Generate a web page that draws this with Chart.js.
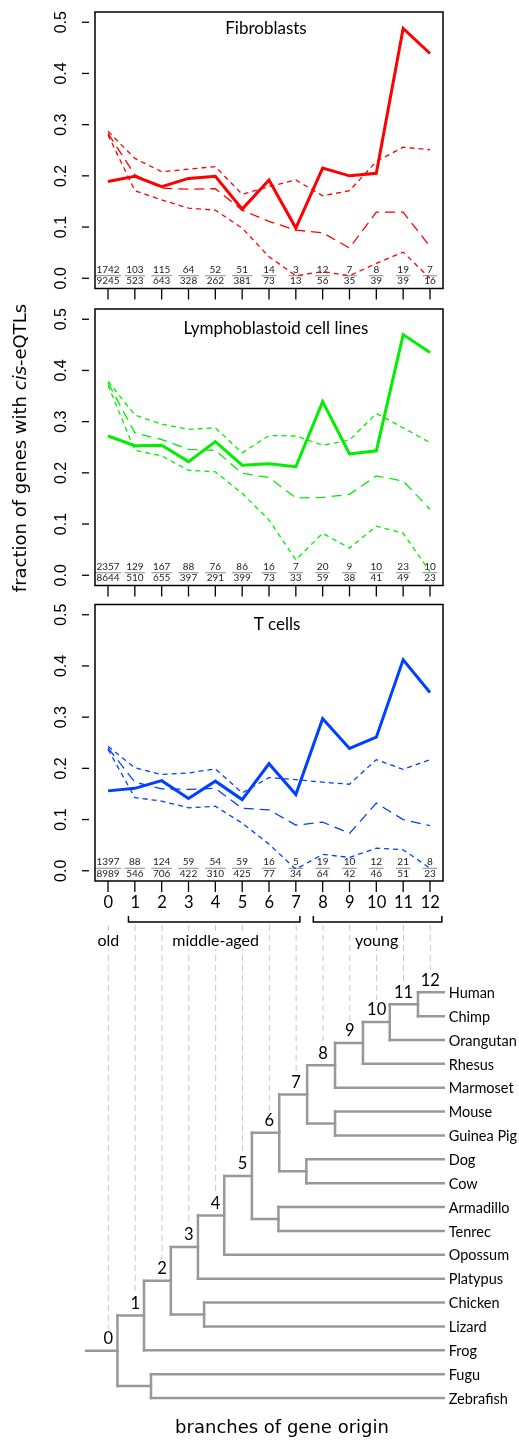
<!DOCTYPE html>
<html>
<head>
<meta charset="utf-8">
<script src="https://cdn.jsdelivr.net/npm/chart.js@4.4.0/dist/chart.umd.min.js"></script>
<style>
body { margin: 0; background: #fff; width: 519px; height: 1440px; position: relative; overflow: hidden; }
canvas { position: absolute; left: 0; }
#ytitle {
    position: absolute; left: -179px; top: 436px; width: 400px; height: 24px; line-height: 24px;
    text-align: center; transform: rotate(-90deg); font: 18px 'DejaVu Sans'; color: #000; white-space: nowrap;
}
</style>
</head>
<body>
<canvas id="p1" width="519" height="300" style="top:0px"></canvas>
<canvas id="p2" width="519" height="300" style="top:297px"></canvas>
<canvas id="p3" width="519" height="300" style="top:593px"></canvas>
<canvas id="tree" width="519" height="555" style="top:885px"></canvas>
<div id="ytitle">fraction of genes with <i>cis</i>-eQTLs</div>
<script>
// branches of gene origin (x axis) and y ticks
const branches = [0, 1, 2, 3, 4, 5, 6, 7, 8, 9, 10, 11, 12];
const yTicks = [0, 0.1, 0.2, 0.3, 0.4, 0.5];

// Fibroblasts
const fibroObs = [0.189, 0.199, 0.179, 0.195, 0.199, 0.135, 0.192, 0.098, 0.215, 0.200, 0.205, 0.488, 0.439];
const fibroHigh = [0.287, 0.234, 0.208, 0.213, 0.218, 0.164, 0.179, 0.192, 0.161, 0.171, 0.228, 0.256, 0.251];
const fibroMid = [0.283, 0.202, 0.176, 0.174, 0.175, 0.133, 0.111, 0.094, 0.089, 0.059, 0.129, 0.129, 0.062];
const fibroLow = [0.280, 0.171, 0.153, 0.137, 0.133, 0.098, 0.042, 0.005, 0.013, 0.005, 0.029, 0.051, 0.000];
const fibroNum = [1742, 103, 115, 64, 52, 51, 14, 3, 12, 7, 8, 19, 7];
const fibroDen = [9245, 523, 643, 328, 262, 381, 73, 13, 56, 35, 39, 39, 16];

// Lymphoblastoid cell lines
const lclObs = [0.272, 0.253, 0.254, 0.222, 0.261, 0.215, 0.218, 0.212, 0.339, 0.237, 0.243, 0.470, 0.435];
const lclHigh = [0.379, 0.313, 0.295, 0.285, 0.288, 0.239, 0.273, 0.272, 0.254, 0.264, 0.316, 0.288, 0.259];
const lclMid = [0.376, 0.278, 0.265, 0.246, 0.244, 0.199, 0.191, 0.151, 0.152, 0.158, 0.194, 0.184, 0.129];
const lclLow = [0.371, 0.244, 0.233, 0.205, 0.202, 0.160, 0.108, 0.030, 0.082, 0.053, 0.096, 0.082, 0.007];
const lclNum = [2357, 129, 167, 88, 76, 86, 16, 7, 20, 9, 10, 23, 10];
const lclDen = [8644, 510, 655, 397, 291, 399, 73, 33, 59, 38, 41, 49, 23];

// T cells
const tcellObs = [0.156, 0.161, 0.176, 0.141, 0.175, 0.139, 0.209, 0.149, 0.297, 0.239, 0.261, 0.412, 0.348];
const tcellHigh = [0.243, 0.201, 0.188, 0.191, 0.199, 0.152, 0.182, 0.178, 0.173, 0.169, 0.217, 0.198, 0.217];
const tcellMid = [0.240, 0.173, 0.160, 0.159, 0.161, 0.122, 0.119, 0.089, 0.095, 0.073, 0.132, 0.100, 0.088];
const tcellLow = [0.237, 0.143, 0.136, 0.123, 0.126, 0.093, 0.052, 0.003, 0.032, 0.026, 0.044, 0.041, 0.005];
const tcellNum = [1397, 88, 124, 59, 54, 59, 16, 5, 19, 10, 12, 21, 8];
const tcellDen = [8989, 546, 706, 422, 310, 425, 77, 34, 64, 42, 46, 51, 23];

// tree: leaves top to bottom, internal nodes [id, depth, childA, childB]
const species = ['Human', 'Chimp', 'Orangutan', 'Rhesus', 'Marmoset', 'Mouse', 'Guinea Pig', 'Dog', 'Cow',
    'Armadillo', 'Tenrec', 'Opossum', 'Platypus', 'Chicken', 'Lizard', 'Frog', 'Fugu', 'Zebrafish'];
const treeNodes = [
    ['n11', 11.54, 0, 1],
    ['n10', 10.49, 'n11', 2],
    ['n9', 9.49, 'n10', 3],
    ['n8', 8.45, 'n9', 4],
    ['glires', 8.45, 5, 6],
    ['n7', 7.41, 'n8', 'glires'],
    ['laur', 7.38, 7, 8],
    ['n6', 6.37, 'n7', 'laur'],
    ['afro', 6.34, 9, 10],
    ['n5', 5.35, 'n6', 'afro'],
    ['n4', 4.32, 'n5', 11],
    ['n3', 3.34, 'n4', 12],
    ['saur', 3.57, 13, 14],
    ['n2', 2.33, 'n3', 'saur'],
    ['n1', 1.33, 'n2', 15],
    ['fish', 1.59, 16, 17],
    ['n0', 0.34, 'n1', 'fish']
];
const tipDepth = 12.5;
const rootDepth = -0.83;
const ageGroups = ['old', 'middle-aged', 'young'];
const ageCenters = [0, 4, 10];

const geo = 'Lato, "DejaVu Sans", sans-serif';

// frame, ticks, counts and title of one panel
const panelDecor = {
    id: 'panelDecor',
    beforeDatasetsDraw(chart, args, opts) {
        const { ctx, scales: { x, y } } = chart;
        const y0 = y.getPixelForValue(0);
        ctx.save();
        ctx.font = '10px ' + geo;
        ctx.textAlign = 'center';
        ctx.textBaseline = 'middle';
        opts.num.forEach((n, i) => {
            const px = x.getPixelForValue(branches[i]);
            const a = String(n), b = String(opts.den[i]);
            ctx.fillStyle = '#222';
            ctx.fillText(a, px, y0 - 8.5);
            ctx.fillText(b, px, y0 + 3);
            const w = Math.max(ctx.measureText(a).width, ctx.measureText(b).width, 11) + 3;
            ctx.strokeStyle = '#888';
            ctx.lineWidth = 1;
            ctx.beginPath();
            ctx.moveTo(px - w / 2, y0 - 2.5);
            ctx.lineTo(px + w / 2, y0 - 2.5);
            ctx.stroke();
        });
        ctx.restore();
    },
    afterDraw(chart, args, opts) {
        const { ctx, chartArea: a, scales: { x, y } } = chart;
        ctx.save();
        ctx.strokeStyle = '#000';
        ctx.lineWidth = 1.5;
        ctx.strokeRect(a.left, a.top, a.right - a.left, a.bottom - a.top);
        ctx.lineWidth = 1.3;
        ctx.fillStyle = '#000';
        ctx.font = '16px "Liberation Sans", Arial, sans-serif';
        ctx.textAlign = 'center';
        ctx.textBaseline = 'middle';
        yTicks.forEach(t => {
            const py = y.getPixelForValue(t);
            ctx.beginPath();
            ctx.moveTo(a.left - 13, py);
            ctx.lineTo(a.left - 6, py);
            ctx.stroke();
            ctx.save();
            ctx.translate(61.5, py);
            ctx.rotate(-Math.PI / 2);
            ctx.fillText(t.toFixed(1), 0, 0);
            ctx.restore();
        });
        branches.forEach(b => {
            const px = x.getPixelForValue(b);
            ctx.beginPath();
            ctx.moveTo(px, a.bottom);
            ctx.lineTo(px, a.bottom + 11);
            ctx.stroke();
        });
        ctx.font = '17px ' + geo;
        ctx.fillText(opts.title, opts.titleX, a.top + opts.titleDy);
        ctx.restore();
    }
};

function makePanel(id, top, title, titleX, titleDy, color, obs, high, mid, low, num, den) {
    const pts = arr => branches.map((b, i) => ({ x: b, y: arr[i] }));
    const dashed = (arr, dash) => ({
        data: pts(arr), borderColor: color, borderWidth: 1.3, borderDash: dash,
        pointRadius: 0, tension: 0, fill: false
    });
    return new Chart(document.getElementById(id), {
        type: 'line',
        data: {
            datasets: [
                dashed(high, [5, 4]),
                dashed(mid, [10, 6]),
                dashed(low, [5, 4]),
                { data: pts(obs), borderColor: color, borderWidth: 3, pointRadius: 0, tension: 0, fill: false }
            ]
        },
        options: {
            responsive: false,
            animation: false,
            devicePixelRatio: 1,
            layout: { padding: { left: 95, right: 76, top: top, bottom: 300 - top - 276.5 } },
            scales: {
                x: { type: 'linear', min: -0.485, max: 12.485, display: false },
                y: { type: 'linear', min: -0.02, max: 0.52, display: false }
            },
            plugins: {
                legend: { display: false },
                tooltip: { enabled: false },
                panelDecor: { title: title, titleX: titleX, titleDy: titleDy, num: num, den: den }
            }
        },
        plugins: [panelDecor]
    });
}

makePanel('p1', 12, 'Fibroblasts', 266, 17, '#ff0000', fibroObs, fibroHigh, fibroMid, fibroLow, fibroNum, fibroDen);
makePanel('p2', 12, 'Lymphoblastoid cell lines', 276, 20, '#00ee00', lclObs, lclHigh, lclMid, lclLow, lclNum, lclDen);
makePanel('p3', 11.5, 'T cells', 277, 20, '#0040ff', tcellObs, tcellHigh, tcellMid, tcellLow, tcellNum, tcellDen);

// tree layout: node y is the mean of its children
const nodePos = {};
const posOf = c => typeof c === 'number' ? { x: tipDepth, y: c } : nodePos[c];
treeNodes.forEach(([id, d, ca, cb]) => {
    nodePos[id] = { x: d, y: (posOf(ca).y + posOf(cb).y) / 2 };
});
const segments = [];
treeNodes.forEach(([id, d, ca, cb]) => {
    const A = posOf(ca), B = posOf(cb);
    segments.push([{ x: d, y: A.y }, { x: d, y: B.y }]);
    segments.push([{ x: d, y: A.y }, { x: A.x, y: A.y }]);
    segments.push([{ x: d, y: B.y }, { x: B.x, y: B.y }]);
});
segments.push([{ x: rootDepth, y: nodePos.n0.y }, { x: nodePos.n0.x, y: nodePos.n0.y }]);

// y of the branch leading into node k (12 = human lineage)
const branchY = b => b === 12 ? 0 : nodePos['n' + b].y;

const treeDecor = {
    id: 'treeDecor',
    beforeDatasetsDraw(chart) {
        const { ctx, scales: { x, y } } = chart;
        ctx.save();
        ctx.strokeStyle = '#c8c8c8';
        ctx.lineWidth = 1;
        ctx.setLineDash([6, 4]);
        branches.forEach(b => {
            const px = x.getPixelForValue(b);
            ctx.beginPath();
            ctx.moveTo(px, 40);
            ctx.lineTo(px, y.getPixelForValue(branchY(b)) - 22);
            ctx.stroke();
        });
        ctx.restore();
    },
    afterDraw(chart) {
        const { ctx, scales: { x, y } } = chart;
        ctx.save();
        ctx.fillStyle = '#000';
        ctx.textAlign = 'center';
        ctx.textBaseline = 'middle';
        ctx.font = '16.5px ' + geo;
        branches.forEach(b => {
            const px = x.getPixelForValue(b);
            ctx.fillText(String(b), px, 18);
            ctx.fillText(String(b), px, y.getPixelForValue(branchY(b)) - 12);
        });
        // brackets
        ctx.strokeStyle = '#000';
        ctx.lineWidth = 1.5;
        [[0.75, 7.14], [7.64, 12.43]].forEach(([s, e]) => {
            const l = x.getPixelForValue(s), r = x.getPixelForValue(e);
            ctx.beginPath();
            ctx.moveTo(l, 31);
            ctx.lineTo(l, 37);
            ctx.lineTo(r, 37);
            ctx.lineTo(r, 31);
            ctx.stroke();
        });
        ctx.font = '16px ' + geo;
        ageGroups.forEach((g, i) => {
            const px = x.getPixelForValue(ageCenters[i]);
            const w = ctx.measureText(g).width;
            ctx.fillStyle = '#fff';
            ctx.fillRect(px - w / 2 - 1, 48, w + 2, 16);
            ctx.fillStyle = '#000';
            ctx.fillText(g, px, 56);
        });
        ctx.textAlign = 'left';
        ctx.font = '14.5px ' + geo;
        species.forEach((s, i) => {
            ctx.fillText(s, x.getPixelForValue(tipDepth) + 5, y.getPixelForValue(i) + 1);
        });
        ctx.textAlign = 'center';
        ctx.font = '18px "DejaVu Sans", sans-serif';
        ctx.fillText('branches of gene origin', 282, 543);
        ctx.restore();
    }
};

new Chart(document.getElementById('tree'), {
    type: 'line',
    data: {
        datasets: segments.map(s => ({
            data: s, borderColor: '#989898', borderWidth: 2.5, borderCapStyle: 'square',
            pointRadius: 0, tension: 0, fill: false
        }))
    },
    options: {
        responsive: false,
        animation: false,
        devicePixelRatio: 1,
        layout: { padding: { left: 81.5, right: 72.6, top: 83.4, bottom: 18.1 } },
        scales: {
            x: { type: 'linear', min: -1, max: 12.6, display: false },
            y: { type: 'linear', min: -1, max: 18, reverse: true, display: false }
        },
        plugins: { legend: { display: false }, tooltip: { enabled: false } }
    },
    plugins: [treeDecor]
});
</script>
</body>
</html>
